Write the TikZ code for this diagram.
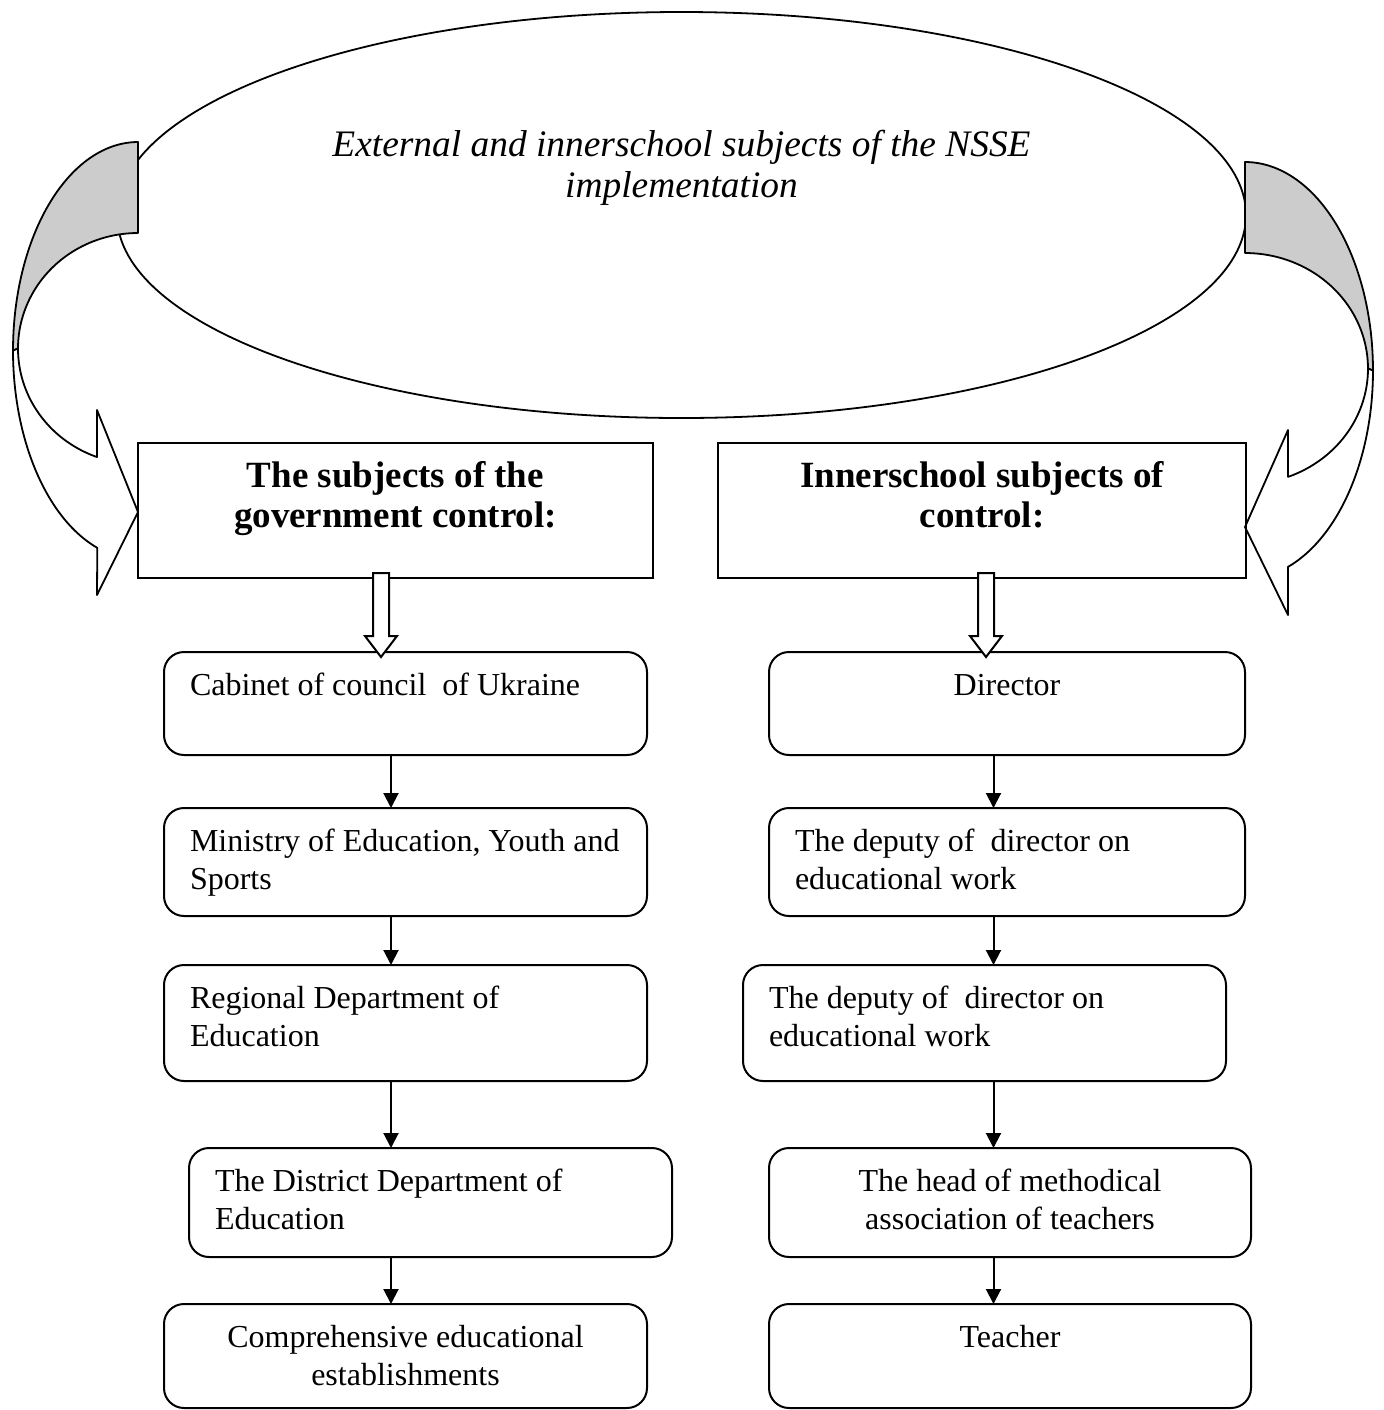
\documentclass[tikz,border=0pt]{standalone}
\usepackage{fontspec}
\setmainfont{Liberation Serif}
\usetikzlibrary{shapes.geometric,arrows.meta,calc}
\definecolor{shade}{RGB}{204,204,204}
\newcommand{\myleft}[1]{\parbox[t]{260pt}{\raggedright #1}}
\newcommand{\mycenter}[1]{\parbox[t]{260pt}{\centering #1}}
\begin{document}
\begin{tikzpicture}[x=0.5pt,y=-0.5pt,
  rbox/.style={draw, line width=1pt, rounded corners=10pt, inner sep=0pt, outer sep=0pt, anchor=north west},
  hbox/.style={draw, line width=1pt, inner sep=0pt, outer sep=0pt, anchor=north west},
  txt/.style={inner sep=0pt, outer sep=0pt, font=\fontsize{16}{19}\selectfont},
  htxt/.style={inner sep=0pt, outer sep=0pt, anchor=base, font=\fontsize{18.5}{20}\selectfont\bfseries},
  etxt/.style={inner sep=0pt, outer sep=0pt, anchor=base, font=\fontsize{18.7}{20.5}\selectfont\itshape},
  arr/.style={line width=1pt, -{Triangle[length=7.5pt,width=7.5pt]}},
  curv/.style={line width=0.9pt, line join=round},
  hollow/.style={draw, line width=1pt, fill=white, line join=miter}]
\useasboundingbox (0,0) rectangle (1384,1410);

% central ellipse
\node[draw, ellipse, line width=0.9pt, minimum width=564.5pt, minimum height=203pt, inner sep=0pt] (E) at (681.5,215) {};
\node[etxt] (Et) at ($(E.north)+(0,145)$) {\parbox[t]{400pt}{\centering External and innerschool subjects of the NSSE\\ implementation}};

% left curved arrow (back part, shaded)
\filldraw[curv, fill=shade] plot[domain=90:180,samples=50] ({138+125*cos(\x)},{350.6-208.6*sin(\x)})
  -- plot[domain=180:90,samples=50] ({138+120*cos(\x)},{348.5-115.5*sin(\x)}) -- cycle;
% left curved arrow (front part)
\filldraw[curv, fill=white] plot[domain=180:251,samples=50] ({138+125*cos(\x)},{350.6-208.6*sin(\x)})
  -- (97,595) -- (138,512) -- (97,410)
  -- plot[domain=250:180,samples=50] ({138+120*cos(\x)},{348.5-115.5*sin(\x)}) -- cycle;

% right curved arrow (back part, shaded)
\filldraw[curv, fill=shade] plot[domain=90:0,samples=50] ({1245+128*cos(\x)},{370.5-208.5*sin(\x)})
  -- plot[domain=0:90,samples=50] ({1245+123*cos(\x)},{368.6-115.6*sin(\x)}) -- cycle;
% right curved arrow (front part)
\filldraw[curv, fill=white] plot[domain=0:-70.4,samples=50] ({1245+128*cos(\x)},{370.5-208.5*sin(\x)})
  -- (1288,615) -- (1245,527) -- (1288,430)
  -- plot[domain=-69.5:0,samples=50] ({1245+123*cos(\x)},{368.6-115.6*sin(\x)}) -- cycle;

% header boxes
\node[hbox, minimum width=257.5pt, minimum height=67.5pt] (H1) at (138,443) {};
\node[hbox, minimum width=264pt, minimum height=67.5pt] (H2) at (718,443) {};
\node[htxt] (H1t) at ($(H1.north)+(0,44)$) {\mycenter{The subjects of the\\ government control:}};
\node[htxt] (H2t) at ($(H2.north)+(0,44)$) {\mycenter{Innerschool subjects of\\ control:}};

% left column
\node[rbox, minimum width=241.5pt, minimum height=51.5pt] (L1) at (164,652) {};
\node[rbox, minimum width=241.5pt, minimum height=54pt] (L2) at (164,808) {};
\node[rbox, minimum width=241.5pt, minimum height=58pt] (L3) at (164,965) {};
\node[rbox, minimum width=241.5pt, minimum height=54.5pt] (L4) at (189,1148) {};
\node[rbox, minimum width=241.5pt, minimum height=52pt] (L5) at (164,1304) {};
\node[txt, anchor=base west] (L1t) at ($(L1.north west)+(26,43.5)$) {\myleft{Cabinet of council\ \ of Ukraine}};
\node[txt, anchor=base west] (L2t) at ($(L2.north west)+(26,43.5)$) {\myleft{Ministry of Education, Youth and\\ Sports}};
\node[txt, anchor=base west] (L3t) at ($(L3.north west)+(26,43.5)$) {\myleft{Regional Department of\\ Education}};
\node[txt, anchor=base west] (L4t) at ($(L4.north west)+(26,43.5)$) {\myleft{The District Department of\\ Education}};
\node[txt, anchor=base] (L5t) at ($(L5.north)+(0,43.5)$) {\mycenter{Comprehensive educational\\ establishments}};

% right column
\node[rbox, minimum width=238pt, minimum height=51.5pt] (R1) at (769,652) {};
\node[rbox, minimum width=238pt, minimum height=54pt] (R2) at (769,808) {};
\node[rbox, minimum width=241.5pt, minimum height=58pt] (R3) at (743,965) {};
\node[rbox, minimum width=241pt, minimum height=54.5pt] (R4) at (769,1148) {};
\node[rbox, minimum width=241pt, minimum height=52pt] (R5) at (769,1304) {};
\node[txt, anchor=base] (R1t) at ($(R1.north)+(0,43.5)$) {\mycenter{Director}};
\node[txt, anchor=base west] (R2t) at ($(R2.north west)+(26,43.5)$) {\myleft{The deputy of\ \ director on\\ educational work}};
\node[txt, anchor=base west] (R3t) at ($(R3.north west)+(26,43.5)$) {\myleft{The deputy of\ \ director on\\ educational work}};
\node[txt, anchor=base] (R4t) at ($(R4.north)+(0,43.5)$) {\mycenter{The head of methodical\\ association of teachers}};
\node[txt, anchor=base] (R5t) at ($(R5.north)+(0,43.5)$) {\mycenter{Teacher}};

% hollow block arrows from headers
\coordinate (hxl) at (381,0);
\coordinate (hxr) at (986,0);
\draw[hollow] ($(H1.south -| hxl)+(-8,-5)$) -- ($(L1.north -| hxl)+(-8,-16)$) -- ($(L1.north -| hxl)+(-16,-16)$)
  -- ($(L1.north -| hxl)+(0,5)$) -- ($(L1.north -| hxl)+(16,-16)$) -- ($(L1.north -| hxl)+(8,-16)$)
  -- ($(H1.south -| hxl)+(8,-5)$) -- cycle;
\draw[hollow] ($(H2.south -| hxr)+(-8,-5)$) -- ($(R1.north -| hxr)+(-8,-16)$) -- ($(R1.north -| hxr)+(-16,-16)$)
  -- ($(R1.north -| hxr)+(0,5)$) -- ($(R1.north -| hxr)+(16,-16)$) -- ($(R1.north -| hxr)+(8,-16)$)
  -- ($(H2.south -| hxr)+(8,-5)$) -- cycle;

% connectors
\coordinate (lx) at (391,0);
\coordinate (rx) at (993.5,0);
\draw[arr] (L1.south -| lx) -- (L2.north -| lx);
\draw[arr] (L2.south -| lx) -- (L3.north -| lx);
\draw[arr] (L3.south -| lx) -- (L4.north -| lx);
\draw[arr] (L4.south -| lx) -- (L5.north -| lx);
\draw[arr] (R1.south -| rx) -- (R2.north -| rx);
\draw[arr] (R2.south -| rx) -- (R3.north -| rx);
\draw[arr] (R3.south -| rx) -- (R4.north -| rx);
\draw[arr] (R4.south -| rx) -- (R5.north -| rx);
\end{tikzpicture}
\end{document}
